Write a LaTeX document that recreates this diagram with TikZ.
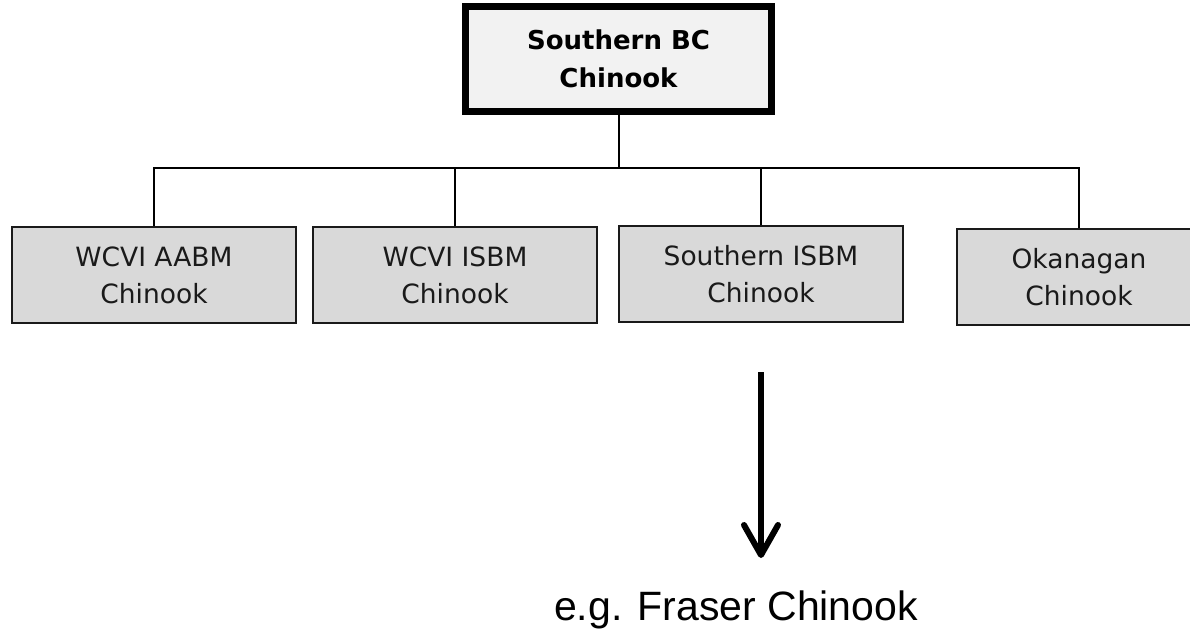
\documentclass[tikz,border=0pt]{standalone}
\usepackage{fontspec}
\setmainfont{DejaVu Sans}
\newfontfamily\arialfont{Liberation Sans}
\usetikzlibrary{arrows.meta}
\definecolor{topgray}{HTML}{F2F2F2}
\definecolor{boxgray}{HTML}{D9D9D9}
\definecolor{inkgray}{HTML}{1A1A1A}
\begin{document}
\begin{tikzpicture}[x=1pt,y=-1pt,
  topbox/.style={draw=black, line width=7pt, fill=topgray, minimum width=306pt, minimum height=105pt, inner sep=0pt, align=center, font=\fontsize{26}{38}\selectfont\bfseries},
  childbox/.style={draw=inkgray, line width=2pt, fill=boxgray, minimum width=284pt, minimum height=96pt, inner sep=0pt, align=center, text=inkgray, font=\fontsize{26.5}{37}\selectfont},
  link/.style={draw=black, line width=2pt},
  bigarrow/.style={draw=black, line width=6pt, -{Straight Barb[length=30pt, width=34pt, round]}}
]
\clip (0,0) rectangle (1190,630);
\fill[white] (0,0) rectangle (1190,630);

\node[topbox] (top) at (618.5,59) {Southern BC\\Chinook};

\node[childbox] (c1) at (154,275) {WCVI AABM\\Chinook};
\node[childbox] (c2) at (455,275) {WCVI ISBM\\Chinook};
\node[childbox] (c3) at (761,274) {Southern ISBM\\Chinook};
\node[childbox, minimum width=244pt] (c4) at (1079,277) {Okanagan\\Chinook};

\coordinate (bus) at (618,168);
\draw[link] (top.south) -- (top.south |- bus);
\draw[link] (c1.north) -- (c1.north |- bus) -- (c4.north |- bus) -- (c4.north);
\draw[link] (c2.north) -- (c2.north |- bus);
\draw[link] (c3.north) -- (c3.north |- bus);

\node[anchor=base, inner sep=0pt, font=\arialfont\fontsize{41}{41}\selectfont] (fraser) at (736,620) {e.g. Fraser Chinook};

\coordinate (arrtop) at (761,372);
\coordinate (arrtip) at (761,558);
\draw[bigarrow] (arrtop) -- (arrtip);
\end{tikzpicture}
\end{document}
